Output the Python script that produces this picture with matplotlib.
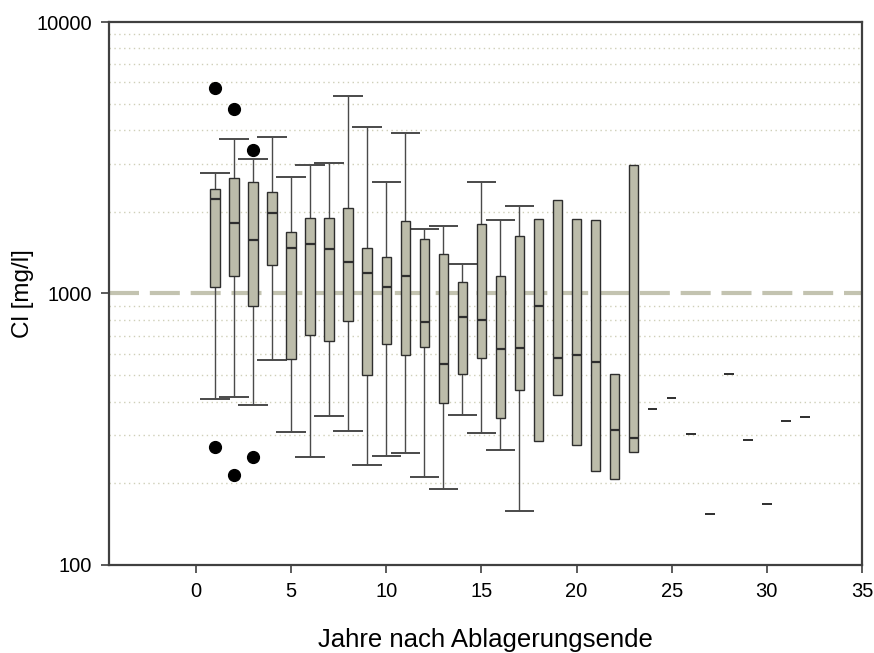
import numpy as np
import matplotlib
matplotlib.use("Agg")
import matplotlib.pyplot as plt

plt.rcParams["font.family"] = ["Liberation Sans", "DejaVu Sans"]

# years after end of deposition with full box plots
years = list(range(1, 24))
q1 = [1059, 1160, 899, 1274, 572, 703, 670, 790, 501, 652, 595, 635, 394, 504,
      580, 349, 441, 286, 422, 277, 222, 207, 261]
med = [2223, 1818, 1574, 1974, 1467, 1518, 1455, 1306, 1193, 1059, 1160, 783, 548, 817,
       799, 625, 630, 897, 580, 594, 558, 313, 294]
q3 = [2427, 2657, 2582, 2358, 1689, 1892, 1892, 2059, 1467, 1366, 1854, 1592, 1394, 1105,
      1803, 1163, 1633, 1881, 2210, 1881, 1870, 504, 2974]
whis_lo = [409, 417, 388, 569, 310, 249, 353, 311, 233, 251, 258, 211, 190, 357,
           306, 265, 158, np.nan, np.nan, np.nan, np.nan, np.nan, np.nan]
whis_hi = [2786, 3698, 3121, 3780, 2679, 2974, 3033, 5353, 4095, 2582, 3890, 1724, 1768, 1288,
           2582, 1865, 2105, np.nan, np.nan, np.nan, np.nan, np.nan, np.nan]

# outliers
out_x = [1, 2, 3, 1, 2, 3]
out_y = [5700, 4795, 3386, 271, 214, 249]

# single measurements
single_x = [24, 25, 26, 27, 28, 29, 30, 31, 32]
single_y = [375, 411, 304, 154, 504, 289, 168, 340, 351]

BOX_COLOR = "#bcbcaa"
EDGE = "#2e2e2e"
WHISK = "#4a4a4a"
REF_COLOR = "#c3c3b0"

fig = plt.figure(figsize=(8.74, 6.53), dpi=100)
ax = fig.add_axes([0.1247, 0.1348, 0.8616, 0.8315])
ax.set_yscale("log")

x = np.array(years, dtype=float)
bw, cw = 0.5, 1.55

ax.vlines(x, whis_lo, q1, color=WHISK, lw=1.0, zorder=3)
ax.vlines(x, q3, whis_hi, color=WHISK, lw=1.0, zorder=3)
ax.hlines(whis_lo, x - cw / 2, x + cw / 2, color=WHISK, lw=1.4, zorder=3)
ax.hlines(whis_hi, x - cw / 2, x + cw / 2, color=WHISK, lw=1.4, zorder=3)
ax.bar(x, np.array(q3) - np.array(q1), bottom=q1, width=bw,
       color=BOX_COLOR, edgecolor=EDGE, lw=1.0, zorder=4)
ax.hlines(med, x - bw / 2, x + bw / 2, color=EDGE, lw=1.6, zorder=5)

ax.plot(out_x, out_y, "o", color="black", ms=8.5, zorder=6)
sx = np.array(single_x, dtype=float)
ax.hlines(single_y, sx - 0.25, sx + 0.25, color=EDGE, lw=1.4, zorder=5)

ref = ax.axhline(1000, color=REF_COLOR, lw=3, zorder=2)
ref.set_dashes((7.2, 2.6))

ax.set_xlim(-4.57, 35)
ax.set_ylim(100, 10000)
ax.set_xticks(range(0, 36, 5))
ax.set_yticks([100, 1000, 10000])
ax.set_yticklabels(["100", "1000", "10000"])
ax.yaxis.set_minor_formatter(matplotlib.ticker.NullFormatter())
ax.tick_params(axis="y", which="minor", length=0)
ax.tick_params(axis="both", which="major", direction="out", length=6, width=1.2,
               color="#404040", labelsize=14.5, pad=6)
ax.grid(axis="y", which="minor", color="#cfcfb8", lw=1.0, ls=(0, (1, 2.5)))
ax.set_axisbelow(True)

for s in ax.spines.values():
    s.set_color("#404040")
    s.set_linewidth(1.6)

ax.set_xlabel("Jahre nach Ablagerungsende", fontsize=18.5, labelpad=20)
ax.set_ylabel("Cl [mg/l]", fontsize=17.5, labelpad=2)

fig.savefig("out.png", dpi=100)
